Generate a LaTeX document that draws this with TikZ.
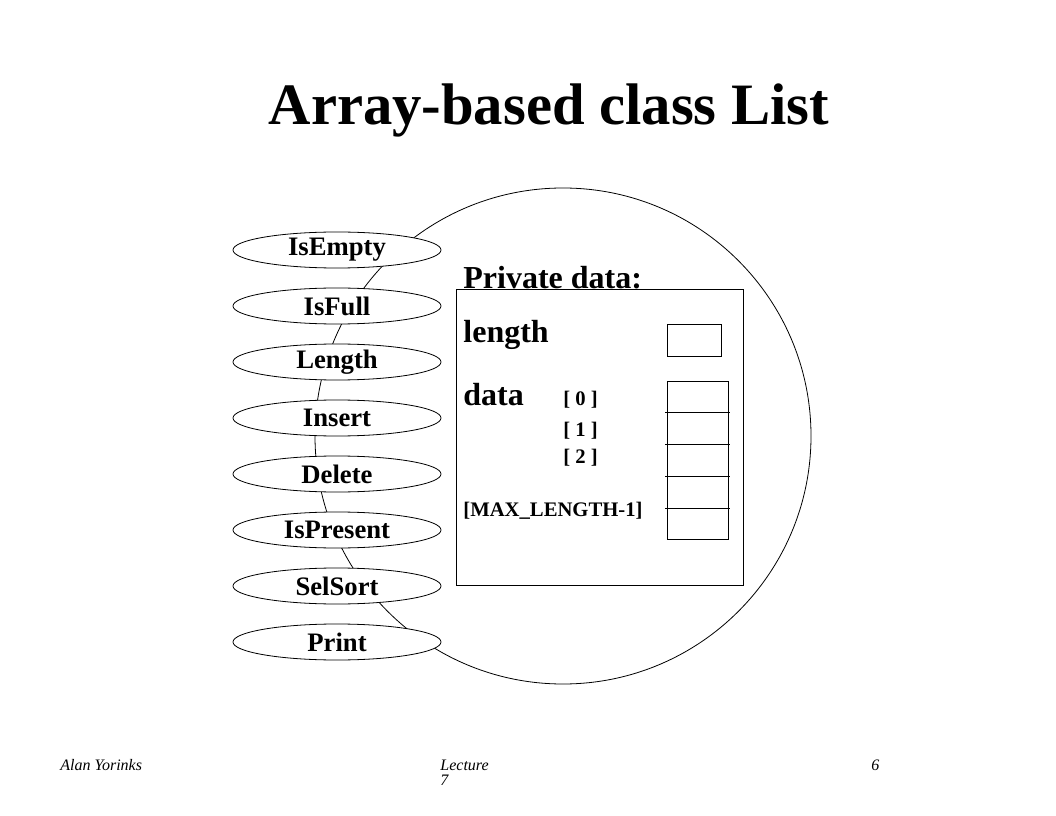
\documentclass[tikz,border=0pt]{standalone}
\usepackage{fontspec}
\setmainfont{Liberation Serif}
\usetikzlibrary{shapes.geometric}
\begin{document}
\begin{tikzpicture}[x=0.75pt,y=-0.75pt,line width=0.6pt,
 op/.style={ellipse,draw,fill=white,minimum width=156pt,minimum height=27pt,inner sep=0pt,font=\bfseries\fontsize{20}{24}\selectfont},
 lbl/.style={anchor=base west,inner sep=0pt,font=\bfseries\fontsize{24}{28}\selectfont},
 idx/.style={anchor=base west,inner sep=0pt,font=\bfseries\fontsize{15.5}{18}\selectfont},
 foot/.style={anchor=base west,inner sep=0pt,font=\itshape\fontsize{12}{14}\selectfont},
 box/.style={draw,anchor=north west,inner sep=0pt}]
\useasboundingbox (0,0) rectangle (1056,816);
% title
\node[anchor=base,inner sep=0pt,font=\bfseries\fontsize{44}{50}\selectfont] (title) at (549,125) {Array-based class List};
% object circle
\node[circle,draw,minimum size=372pt,inner sep=0pt] (obj) at (563,436) {};
% operations
\node[op] (isempty) at (337,250) {IsEmpty};
\node[op] (isfull) at (337,306) {IsFull};
\node[op] (lengthop) at (337,362) {Length};
\node[op] (insert) at (337,418) {Insert};
\node[op] (delete) at (337,474) {Delete};
\node[op] (ispresent) at (337,530) {IsPresent};
\node[op] (selsort) at (337,586) {SelSort};
\node[op] (print) at (337,642) {Print};
% private data
\node[box,minimum width=215.25pt,minimum height=222pt] (priv) at (456,289) {};
\node[lbl] (privlbl) at (463,289) {Private data:};
\node[lbl] (lenlbl) at (463,343) {length};
\node[box,minimum width=40.5pt,minimum height=24pt] (lenbox) at (667,324) {};
\node[lbl] (datalbl) at (463,405) {data};
\node[idx] (i0) at (563,405) {[ 0 ]};
\node[idx] (i1) at (563,436) {[ 1 ]};
\node[idx] (i2) at (563,463) {[ 2 ]};
\node[idx] (imax) at (463,516) {[MAX\_LENGTH-1]};
\node[box,minimum width=45.75pt,minimum height=118.5pt] (arr) at (667,381) {};
\draw (665,412) -- (730,412);
\draw (665,444) -- (730,444);
\draw (665,476) -- (730,476);
\draw (665,508) -- (730,508);
% footer
\node[foot] (author) at (60,770) {Alan Yorinks};
\node[foot] (lect) at (440,770) {Lecture};
\node[foot] (lectnum) at (440,785) {7};
\node[foot] (page) at (871,770) {6};
\end{tikzpicture}
\end{document}
